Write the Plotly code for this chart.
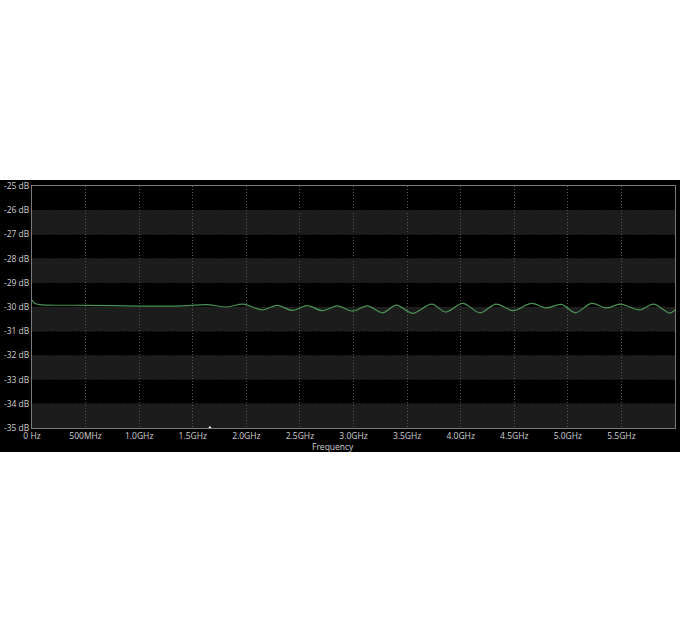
import plotly.graph_objects as go

# Data
freq_ghz = [0.00, 0.02, 0.075, 0.50, 1.00, 1.33, 1.47, 1.63, 1.82, 1.97, 2.15, 2.29, 2.43,
            2.57, 2.71, 2.85, 2.99, 3.13, 3.27, 3.40, 3.55, 3.73, 3.86, 4.02, 4.18, 4.33,
            4.49, 4.66, 4.80, 4.94, 5.07, 5.22, 5.36, 5.49, 5.67, 5.80, 5.95, 6.00]
gain_db = [-29.71, -29.83, -29.90, -29.93, -29.96, -29.96, -29.94, -29.90, -30.00, -29.88,
           -30.12, -29.93, -30.14, -29.94, -30.15, -29.95, -30.17, -29.95, -30.24, -29.92,
           -30.26, -29.88, -30.21, -29.85, -30.24, -29.88, -30.15, -29.85, -30.04, -29.89,
           -30.24, -29.85, -30.04, -29.88, -30.12, -29.88, -30.25, -30.12]

x_tick_vals = [0, 0.5, 1.0, 1.5, 2.0, 2.5, 3.0, 3.5, 4.0, 4.5, 5.0, 5.5]
x_tick_text = ["0 Hz", "500MHz", "1.0GHz", "1.5GHz", "2.0GHz", "2.5GHz", "3.0GHz",
               "3.5GHz", "4.0GHz", "4.5GHz", "5.0GHz", "5.5GHz"]
y_tick_vals = [-25, -26, -27, -28, -29, -30, -31, -32, -33, -34, -35]
y_tick_text = [f"{v} dB" for v in y_tick_vals]
band_ranges = [(-27, -26), (-29, -28), (-31, -30), (-33, -32), (-35, -34)]
marker_freq = [1.66]
marker_db = [-35]

W, H = 680, 630
ml, mr, mt, mb = 32, 5, 186, 202
pw = W - ml - mr
ph = H - mt - mb

fig = go.Figure()

fig.add_trace(go.Scatter(
    x=freq_ghz, y=gain_db, mode="lines",
    line=dict(color="#4a9455", width=1.2, shape="spline", smoothing=0.9),
    hoverinfo="skip", showlegend=False))

fig.add_trace(go.Scatter(
    x=marker_freq, y=marker_db, mode="markers",
    marker=dict(symbol="triangle-up", size=4, color="#ffffff"),
    cliponaxis=False, hoverinfo="skip", showlegend=False))

shapes = []
# black panel
shapes.append(dict(type="rect", xref="paper", yref="paper",
                   x0=-ml / pw, x1=1 + mr / pw,
                   y0=-(452 - (mt + ph)) / ph, y1=1 + (mt - 180) / ph,
                   fillcolor="#000000", line=dict(width=0), layer="below"))
for lo, hi in band_ranges:
    shapes.append(dict(type="rect", xref="x domain", yref="y",
                       x0=0, x1=1, y0=lo, y1=hi,
                       fillcolor="#1c1c1c", line=dict(width=0), layer="below"))

fig.update_layout(
    width=W, height=H,
    margin=dict(l=ml, r=mr, t=mt, b=mb, pad=0, autoexpand=False),
    paper_bgcolor="#ffffff",
    plot_bgcolor="#000000",
    shapes=shapes,
    font=dict(family="Open Sans", size=8.5, color="#d0d0d0"),
    showlegend=False,
    annotations=[dict(text="Frequency", xref="paper", yref="paper",
                      x=(333 - ml) / pw, y=-(446 - (mt + ph)) / ph,
                      xanchor="center", yanchor="middle", showarrow=False,
                      font=dict(family="Open Sans", size=8.5, color="#d0d0d0"))],
)

fig.update_xaxes(
    range=[0, 6.0], tickvals=x_tick_vals, ticktext=x_tick_text,
    showgrid=True, gridcolor="#555555", griddash="1px,2px", gridwidth=1,
    showline=True, linecolor="#7a7a7a", linewidth=1, mirror=True, automargin=False,
    ticks="", zeroline=False, tickfont=dict(size=8.5, color="#d0d0d0"))

fig.update_yaxes(
    range=[-35, -25], tickvals=y_tick_vals, ticktext=y_tick_text,
    showgrid=True, gridcolor="#262626", griddash="1px,2px", gridwidth=1,
    showline=True, linecolor="#7a7a7a", linewidth=1, mirror=True, automargin=False,
    ticks="", zeroline=False, tickfont=dict(size=8.5, color="#d0d0d0"))

fig.write_html("out.html", config={"displayModeBar": False},
               post_script="document.body.style.margin='0';document.body.style.overflow='hidden';")
